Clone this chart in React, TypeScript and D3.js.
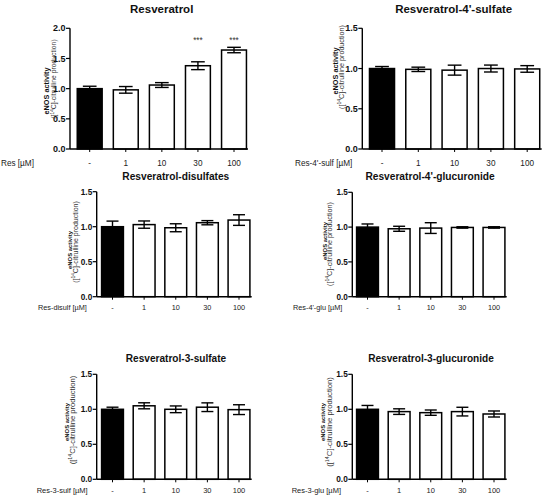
import * as d3 from "d3"

const W = 550
const H = 499
const FONT = "'Liberation Sans', Arial, Helvetica, sans-serif"
const INK = "#111"

// doses on the x axis ("-" = vehicle control)
const DOSES = ["-", "1", "10", "30", "100"]
const TICKS_20 = [0, 0.5, 1, 1.5, 2]
const TICKS_15 = [0, 0.5, 1, 1.5]

// eNOS activity, mean ± SEM
const RES_MEAN = [1.0, 0.98, 1.06, 1.38, 1.64]
const RES_SEM = [0.04, 0.055, 0.04, 0.065, 0.045]
const RES_STARS = ["", "", "", "***", "***"]
const S4_MEAN = [1.0, 0.99, 0.98, 1.0, 0.995]
const S4_SEM = [0.025, 0.027, 0.062, 0.043, 0.041]
const DIS_MEAN = [1.0, 1.03, 0.985, 1.057, 1.095]
const DIS_SEM = [0.08, 0.052, 0.057, 0.03, 0.076]
const G4_MEAN = [1.0, 0.976, 0.986, 0.995, 0.995]
const G4_SEM = [0.045, 0.036, 0.077, 0.01, 0.01]
const S3_MEAN = [1.0, 1.05, 1.0, 1.03, 0.995]
const S3_SEM = [0.03, 0.043, 0.048, 0.062, 0.07]
const G3_MEAN = [1.0, 0.967, 0.952, 0.967, 0.933]
const G3_SEM = [0.055, 0.04, 0.038, 0.062, 0.043]

interface Layout {
  axisX: number
  axisEnd: number
  c0: number
  c4: number
  yTop: number
  yBottom: number
  titleX: number
  titleY: number
  titleFs: number
  xlabX: number
  xlabY: number
  tickFs: number
  yTickFs: number
  lab: { x1: number; x2: number; c1: number; c2: number; fs1: number; fs2: number }
}

interface PanelDef {
  title: string
  xLabel: string
  mean: number[]
  sem: number[]
  stars?: string[]
  yMax: number
  ticks: number[]
  layout: Layout
}

const PANELS: PanelDef[] = [
  {
    title: "Resveratrol",
    xLabel: "Res [µM]",
    mean: RES_MEAN,
    sem: RES_SEM,
    stars: RES_STARS,
    yMax: 2,
    ticks: TICKS_20,
    layout: {
      axisX: 70, axisEnd: 248, c0: 89.7, c4: 234, yTop: 28.3, yBottom: 149,
      titleX: 161.7, titleY: 13.3, titleFs: 11.5, xlabX: 1, xlabY: 165.5, tickFs: 8.2, yTickFs: 9,
      lab: { x1: 49, x2: 56, c1: 91, c2: 79, fs1: 7.3, fs2: 6.8 },
    },
  },
  {
    title: "Resveratrol-4'-sulfate",
    xLabel: "Res-4'-sulf [µM]",
    mean: S4_MEAN,
    sem: S4_SEM,
    yMax: 1.5,
    ticks: TICKS_15,
    layout: {
      axisX: 362.3, axisEnd: 541.7, c0: 382, c4: 527.2, yTop: 28.3, yBottom: 149,
      titleX: 453.7, titleY: 13.3, titleFs: 11.5, xlabX: 295, xlabY: 165.5, tickFs: 8.2, yTickFs: 9,
      lab: { x1: 337.5, x2: 344, c1: 71, c2: 67, fs1: 7.3, fs2: 7.2 },
    },
  },
  {
    title: "Resveratrol-disulfates",
    xLabel: "Res-disulf [µM]",
    mean: DIS_MEAN,
    sem: DIS_SEM,
    yMax: 1.5,
    ticks: TICKS_15,
    layout: {
      axisX: 96.7, axisEnd: 251.7, c0: 112.5, c4: 239, yTop: 191.7, yBottom: 296.7,
      titleX: 175.8, titleY: 179.5, titleFs: 10.2, xlabX: 38, xlabY: 309.5, tickFs: 7.3, yTickFs: 8.2,
      lab: { x1: 72, x2: 77.5, c1: 250, c2: 242, fs1: 5.9, fs2: 7 },
    },
  },
  {
    title: "Resveratrol-4'-glucuronide",
    xLabel: "Res-4'-glu [µM]",
    mean: G4_MEAN,
    sem: G4_SEM,
    yMax: 1.5,
    ticks: TICKS_15,
    layout: {
      axisX: 352.3, axisEnd: 506.7, c0: 367.5, c4: 494, yTop: 192.3, yBottom: 296.7,
      titleX: 430, titleY: 179.5, titleFs: 10.2, xlabX: 293, xlabY: 309.5, tickFs: 7.3, yTickFs: 8.2,
      lab: { x1: 327, x2: 332, c1: 241, c2: 244, fs1: 5.9, fs2: 7.2 },
    },
  },
  {
    title: "Resveratrol-3-sulfate",
    xLabel: "Res-3-sulf [µM]",
    mean: S3_MEAN,
    sem: S3_SEM,
    yMax: 1.5,
    ticks: TICKS_15,
    layout: {
      axisX: 96.7, axisEnd: 251.7, c0: 112.5, c4: 239, yTop: 374.3, yBottom: 479.3,
      titleX: 176, titleY: 361.5, titleFs: 10.1, xlabX: 36.7, xlabY: 493, tickFs: 7.5, yTickFs: 8.3,
      lab: { x1: 68.5, x2: 75, c1: 422, c2: 420, fs1: 5.9, fs2: 7.6 },
    },
  },
  {
    title: "Resveratrol-3-glucuronide",
    xLabel: "Res-3-glu [µM]",
    mean: G3_MEAN,
    sem: G3_SEM,
    yMax: 1.5,
    ticks: TICKS_15,
    layout: {
      axisX: 352.3, axisEnd: 506.7, c0: 367.5, c4: 494, yTop: 374.3, yBottom: 479.3,
      titleX: 431, titleY: 361.5, titleFs: 10.1, xlabX: 291.7, xlabY: 493, tickFs: 7.5, yTickFs: 8.3,
      lab: { x1: 325, x2: 331.5, c1: 422, c2: 422, fs1: 5.9, fs2: 7.7 },
    },
  },
]

function Panel({ p }: { p: PanelDef }) {
  const L = p.layout
  const step = (L.c4 - L.c0) / (DOSES.length - 1)
  const x = d3
    .scaleBand<string>()
    .domain(DOSES)
    .range([L.c0 - step / 2, L.c4 + step / 2])
    .paddingInner(0.31)
    .paddingOuter(0.155)
  const y = d3.scaleLinear().domain([0, p.yMax]).range([L.yBottom, L.yTop])
  const bw = x.bandwidth()
  const cap = bw * 0.55

  return (
    <g fontFamily={FONT} fill={INK}>
      {/* title */}
      <text x={L.titleX} y={L.titleY} textAnchor="middle" fontWeight="bold" fontSize={L.titleFs}>
        {p.title}
      </text>

      {/* bars */}
      {DOSES.map((d, i) => (
        <rect
          key={d}
          x={x(d)}
          y={y(p.mean[i])}
          width={bw}
          height={y(0) - y(p.mean[i])}
          fill={i === 0 ? "#000" : "#fff"}
          stroke="#000"
          strokeWidth={1.5}
        />
      ))}

      {/* error bars (SEM) */}
      {DOSES.map((d, i) => {
        const cx = (x(d) ?? 0) + bw / 2
        const hi = y(p.mean[i] + p.sem[i])
        const lo = y(p.mean[i] - p.sem[i])
        return (
          <g key={d} stroke="#000" strokeWidth={1.4}>
            <line x1={cx} x2={cx} y1={hi} y2={lo} />
            <line x1={cx - cap / 2} x2={cx + cap / 2} y1={hi} y2={hi} />
            <line x1={cx - cap / 2} x2={cx + cap / 2} y1={lo} y2={lo} />
          </g>
        )
      })}

      {/* significance */}
      {p.stars &&
        DOSES.map((d, i) =>
          p.stars![i] ? (
            <text
              key={d}
              x={(x(d) ?? 0) + bw / 2}
              y={y(1.84) + 4.6}
              textAnchor="middle"
              fontSize={8.2}
              fill="#333"
            >
              {p.stars![i]}
            </text>
          ) : null
        )}

      {/* axes */}
      <line x1={L.axisX} x2={L.axisX} y1={L.yTop} y2={L.yBottom} stroke="#000" strokeWidth={1.4} />
      <line x1={L.axisX} x2={L.axisEnd} y1={L.yBottom} y2={L.yBottom} stroke="#000" strokeWidth={1.4} />
      {p.ticks.map((t) => (
        <g key={t}>
          <line x1={L.axisX - 4} x2={L.axisX} y1={y(t)} y2={y(t)} stroke="#000" strokeWidth={1.2} />
          <text
            x={L.axisX - 4.5}
            y={y(t)}
            dy="0.35em"
            textAnchor="end"
            fontWeight="bold"
            fontSize={L.yTickFs}
          >
            {d3.format(".1f")(t)}
          </text>
        </g>
      ))}
      {DOSES.map((d) => {
        const cx = (x(d) ?? 0) + bw / 2
        return (
          <g key={d}>
            <line x1={cx} x2={cx} y1={L.yBottom} y2={L.yBottom + 3} stroke="#000" strokeWidth={1} />
            <text x={cx} y={L.xlabY} textAnchor="middle" fontSize={L.tickFs} fill="#222">
              {d}
            </text>
          </g>
        )
      })}
      <text x={L.xlabX} y={L.xlabY} fontSize={L.tickFs} fill="#222">
        {p.xLabel}
      </text>

      {/* y axis title */}
      <text
        transform={`translate(${L.lab.x1},${L.lab.c1}) rotate(-90)`}
        textAnchor="middle"
        fontWeight="bold"
        fontSize={L.lab.fs1}
      >
        eNOS activity
      </text>
      <text
        transform={`translate(${L.lab.x2},${L.lab.c2}) rotate(-90)`}
        textAnchor="middle"
        fontSize={L.lab.fs2}
        fill="#333"
      >
        ([
        <tspan dy={-L.lab.fs2 * 0.35} fontSize={L.lab.fs2 * 0.7}>
          14
        </tspan>
        <tspan dy={L.lab.fs2 * 0.35}>C]-citrulline production)</tspan>
      </text>
    </g>
  )
}

export default function App() {
  return (
    <svg
      width={W}
      height={H}
      viewBox={`0 0 ${W} ${H}`}
      style={{ position: "absolute", left: 0, top: 0, background: "#fff" }}
    >
      <rect width={W} height={H} fill="#fff" />
      {PANELS.map((p) => (
        <Panel key={p.title} p={p} />
      ))}
    </svg>
  )
}
